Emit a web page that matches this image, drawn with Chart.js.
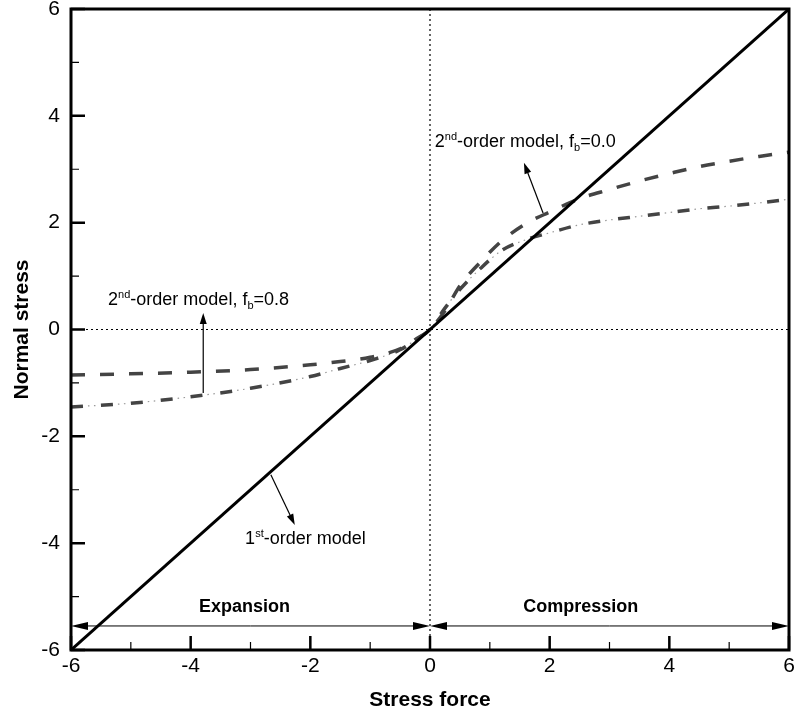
<!DOCTYPE html>
<html>
<head>
<meta charset="utf-8">
<script src="https://cdn.jsdelivr.net/npm/chart.js@4.4.1/dist/chart.umd.min.js"></script>
<style>
	html, body { margin: 0; padding: 0; background: #fff; }
</style>
</head>
<body>
<canvas id="chart" width="797" height="713"></canvas>
<script>
// DATA
const firstOrderX = [-6, 6];
const firstOrderY = [-6, 6];
const secondOrderX = [-6, -5, -4, -3, -2, -1.5, -1, -0.5, -0.25, 0, 0.25, 0.5, 0.85, 1.2, 1.6, 2, 2.5, 3, 3.5, 4, 4.5, 5, 5.5, 6];
const fb00 = [-0.85, -0.83, -0.8, -0.75, -0.66, -0.6, -0.52, -0.36, -0.19, 0, 0.35, 0.82, 1.27, 1.66, 1.98, 2.2, 2.45, 2.62, 2.78, 2.92, 3.05, 3.15, 3.24, 3.32];
const fb08 = [-1.45, -1.38, -1.26, -1.1, -0.88, -0.73, -0.58, -0.38, -0.2, 0, 0.4, 0.75, 1.15, 1.48, 1.68, 1.81, 1.96, 2.05, 2.12, 2.19, 2.26, 2.31, 2.37, 2.44];
const majorTicks = [-6, -4, -2, 0, 2, 4, 6];
const minorTicks = [-5, -3, -1, 1, 3, 5];

const toPoints = (xs, ys) => xs.map((x, i) => ({ x, y: ys[i] }));

const FONT = "'Liberation Sans', Arial, sans-serif";

// arrow with filled head, from (x1,y1) to (x2,y2) in pixels
const arrow = (ctx, x1, y1, x2, y2, len, half) => {
	const a = Math.atan2(y2 - y1, x2 - x1);
	ctx.beginPath();
	ctx.moveTo(x1, y1);
	ctx.lineTo(x2 - Math.cos(a) * len * 0.8, y2 - Math.sin(a) * len * 0.8);
	ctx.stroke();
	ctx.beginPath();
	ctx.moveTo(x2, y2);
	ctx.lineTo(x2 - Math.cos(a) * len - Math.sin(a) * half, y2 - Math.sin(a) * len + Math.cos(a) * half);
	ctx.lineTo(x2 - Math.cos(a) * len + Math.sin(a) * half, y2 - Math.sin(a) * len - Math.cos(a) * half);
	ctx.closePath();
	ctx.fill();
};

// text with superscript / subscript pieces: [text, 0|1|-1]
const richText = (ctx, parts, x, y) => {
	let cx = x;
	ctx.textBaseline = "alphabetic";
	ctx.textAlign = "left";
	parts.forEach(([t, mode]) => {
		if (mode === 0) {
			ctx.font = `18px ${FONT}`;
			ctx.fillText(t, cx, y);
		} else {
			ctx.font = `11px ${FONT}`;
			ctx.fillText(t, cx, mode > 0 ? y - 7 : y + 4);
		}
		cx += ctx.measureText(t).width;
	});
};

const decor = {
	id: "decor",
	beforeDatasetsDraw(chart) {
		const { ctx, chartArea: a, scales: { x, y } } = chart;
		ctx.save();
		ctx.strokeStyle = "#000";
		ctx.lineWidth = 1.2;
		ctx.setLineDash([2, 3]);
		ctx.beginPath();
		ctx.moveTo(x.getPixelForValue(0), a.top);
		ctx.lineTo(x.getPixelForValue(0), a.bottom);
		ctx.moveTo(a.left, y.getPixelForValue(0));
		ctx.lineTo(a.right, y.getPixelForValue(0));
		ctx.stroke();
		ctx.restore();
	},
	afterDatasetsDraw(chart) {
		const { ctx, chartArea: a, scales: { x, y } } = chart;
		const px = (v) => x.getPixelForValue(v);
		const py = (v) => y.getPixelForValue(v);
		ctx.save();
		ctx.strokeStyle = "#000";
		ctx.fillStyle = "#000";

		// ticks (inward)
		ctx.lineWidth = 2.5;
		ctx.beginPath();
		majorTicks.forEach((v) => {
			ctx.moveTo(px(v), a.bottom);
			ctx.lineTo(px(v), a.bottom - 14);
			ctx.moveTo(a.left, py(v));
			ctx.lineTo(a.left + 14, py(v));
		});
		ctx.stroke();
		ctx.lineWidth = 1.2;
		ctx.beginPath();
		minorTicks.forEach((v) => {
			ctx.moveTo(px(v), a.bottom);
			ctx.lineTo(px(v), a.bottom - 8);
			ctx.moveTo(a.left, py(v));
			ctx.lineTo(a.left + 8, py(v));
		});
		ctx.stroke();

		// frame
		ctx.lineWidth = 3;
		ctx.strokeRect(a.left, a.top, a.right - a.left, a.bottom - a.top);

		// expansion / compression arrows
		ctx.lineWidth = 1;
		const ay = py(-5.55);
		arrow(ctx, px(-3), ay, px(-6), ay, 17, 4);
		arrow(ctx, px(-3), ay, px(0), ay, 17, 4);
		arrow(ctx, px(3), ay, px(0), ay, 17, 4);
		arrow(ctx, px(3), ay, px(6), ay, 17, 4);
		ctx.font = `bold 18px ${FONT}`;
		ctx.textAlign = "center";
		ctx.textBaseline = "middle";
		ctx.fillText("Expansion", px(-3.1), py(-5.19));
		ctx.fillText("Compression", px(2.52), py(-5.19));

		// model labels
		ctx.lineWidth = 1.2;
		arrow(ctx, px(1.89), py(2.18), px(1.57), py(3.12), 11, 3.5);
		arrow(ctx, px(-3.79), py(-1.19), px(-3.79), py(0.31), 11, 3.5);
		arrow(ctx, px(-2.66), py(-2.72), px(-2.26), py(-3.66), 11, 3.5);
		richText(ctx, [["2", 0], ["nd", 1], ["-order model, f", 0], ["b", -1], ["=0.0", 0]], px(0.08), py(3.42));
		richText(ctx, [["2", 0], ["nd", 1], ["-order model, f", 0], ["b", -1], ["=0.8", 0]], px(-5.38), py(0.46));
		richText(ctx, [["1", 0], ["st", 1], ["-order model", 0]], px(-3.09), py(-4.02));
		ctx.restore();
	},
};

const ctx = document.getElementById("chart").getContext("2d");
new Chart(ctx, {
	type: "line",
	data: {
		datasets: [
			{
				label: "1st-order model",
				data: toPoints(firstOrderX, firstOrderY),
				borderColor: "#000",
				borderWidth: 3,
				pointRadius: 0,
			},
			{
				label: "2nd-order model, fb=0.0",
				data: toPoints(secondOrderX, fb00),
				borderColor: "#444",
				borderWidth: 3.5,
				borderDash: [14, 15],
				pointRadius: 0,
				cubicInterpolationMode: "monotone",
			},
			{
				label: "2nd-order model, fb=0.8",
				data: toPoints(secondOrderX, fb08),
				borderColor: "#444",
				borderWidth: 3.5,
				borderDash: [12, 18],
				pointRadius: 0,
				cubicInterpolationMode: "monotone",
			},
			{
				label: "2nd-order model, fb=0.8 (dots)",
				data: toPoints(secondOrderX, fb08),
				borderColor: "#999",
				borderWidth: 1.2,
				borderDash: [0, 17, 1.5, 4.5, 1.5, 5.5],
				pointRadius: 0,
				cubicInterpolationMode: "monotone",
			},
		],
	},
	options: {
		responsive: false,
		animation: false,
		devicePixelRatio: 1,
		layout: { padding: { top: 9, right: 8, left: 0, bottom: 0 } },
		plugins: {
			legend: { display: false },
			tooltip: { enabled: false },
		},
		scales: {
			x: {
				type: "linear",
				min: -6,
				max: 6,
				afterFit: (s) => {
					s.height = 63;
					s.paddingLeft = 0;
					s.paddingRight = 0;
				},
				grid: { display: false, drawTicks: false },
				border: { display: false },
				ticks: {
					stepSize: 2,
					padding: 4,
					color: "#000",
					font: { family: FONT, size: 21 },
				},
				title: {
					display: true,
					text: "Stress force",
					color: "#000",
					font: { family: FONT, size: 21, weight: "bold" },
					padding: { top: 1.5, bottom: 0 },
				},
			},
			y: {
				type: "linear",
				min: -6,
				max: 6,
				afterFit: (s) => {
					s.width = 71;
					s.paddingTop = 0;
					s.paddingBottom = 0;
				},
				grid: { display: false, drawTicks: false },
				border: { display: false },
				ticks: {
					stepSize: 2,
					padding: 11,
					color: "#000",
					font: { family: FONT, size: 21 },
				},
				title: {
					display: true,
					text: "Normal stress",
					color: "#000",
					font: { family: FONT, size: 21, weight: "bold" },
					padding: { top: 9.5, bottom: 0 },
				},
			},
		},
	},
	plugins: [decor],
});
</script>
</body>
</html>
